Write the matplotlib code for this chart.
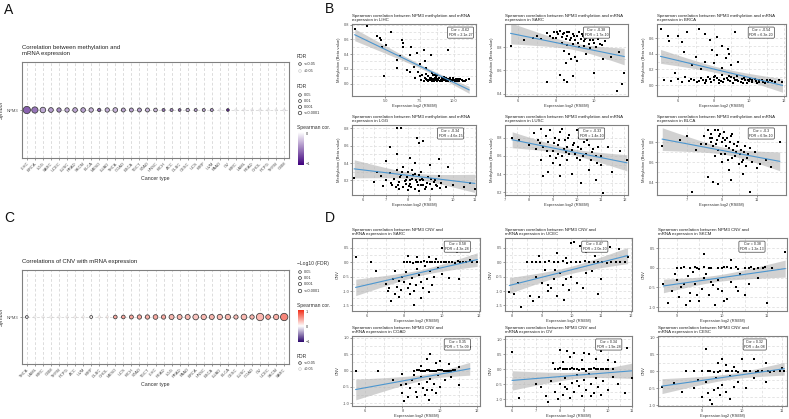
import numpy as np
import matplotlib.pyplot as plt
from matplotlib.colors import LinearSegmentedColormap, Normalize

plt.rcParams['font.family'] = ['Liberation Sans', 'DejaVu Sans']
plt.rcParams['axes.unicode_minus'] = False

# ---------------- panel A: methylation vs mRNA (bubble row) ----------------
meth_types = ['LIHC', 'BRCA', 'LGG', 'SARC', 'UCEC', 'LUSC', 'PRAD', 'SKCM', 'BLCA', 'MESO',
              'LUAD', 'THCA', 'COAD', 'ESCA', 'TGCT', 'STAD', 'HNSC', 'KICH', 'ACC', 'DLBC',
              'CESC', 'UCS', 'KIRP', 'UVM', 'PAAD', 'OV', 'KIRC', 'LAML', 'READ', 'CHOL',
              'PCPG', 'THYM', 'GBM']
meth_cor = [-0.62, -0.54, -0.34, -0.38, -0.45, -0.33, -0.35, -0.37, -0.30, -0.60,
            -0.32, -0.30, -0.35, -0.36, -0.38, -0.30, -0.28, -0.55, -0.45, -0.60,
            -0.30, -0.40, -0.35, -0.40, -0.15, -0.85, -0.08, -0.10, -0.12, -0.10,
            -0.05, -0.06, -0.15]
meth_fdr = [2.1e-27, 6.3e-20, 4.6e-15, 1.7e-10, 2e-8, 1.4e-8, 5e-10, 5e-10, 6.9e-9, 4e-4,
            2e-8, 5e-10, 8e-7, 8e-7, 8e-7, 8e-7, 2e-5, 6e-3, 6e-3, 3e-2,
            4e-4, 6e-3, 6e-3, 6e-3, 0.3, 0.04, 0.5, 0.5, 0.5, 0.5,
            0.5, 0.5, 0.5]

# ---------------- panel C: CNV vs mRNA (bubble row) ----------------
cnv_types = ['THCA', 'LAML', 'KIRC', 'GBM', 'THYM', 'PCPG', 'ACC', 'UVM', 'KIRP', 'DLBC',
             'CHOL', 'MESO', 'UCS', 'KICH', 'STAD', 'TGCT', 'LIHC', 'READ', 'LGG', 'PRAD',
             'PAAD', 'BRCA', 'HNSC', 'ESCA', 'LUAD', 'BLCA', 'CESC', 'LUSC', 'COAD', 'OV',
             'UCEC', 'SKCM', 'SARC']
cnv_cor = [-0.08, 0.02, 0.03, 0.05, 0.05, 0.08, 0.10, 0.10, 0.05, 0.15,
           0.15, 0.40, 0.42, 0.42, 0.40, 0.38, 0.40, 0.40, 0.35, 0.35,
           0.33, 0.28, 0.33, 0.35, 0.33, 0.35, 0.32, 0.33, 0.35, 0.34,
           0.47, 0.38, 0.58]
cnv_fdr = [0.03, 0.6, 0.5, 0.6, 0.5, 0.4, 0.4, 0.4, 0.02, 0.2,
           0.2, 2e-5, 2e-5, 8e-7, 2e-8, 2e-8, 5e-10, 2e-8, 8e-12, 8e-12,
           8e-12, 1e-15, 1e-13, 8e-12, 1e-13, 1e-13, 4e-8, 1e-15, 7.7e-9, 1.9e-28,
           2e-10, 1.2e-13, 4.3e-28]

# ---------------- panel B: methylation scatter data (expression, beta) ----------------
lihc_meth = [(2.8, 0.74), (3.7, 0.78), (4.4, 0.64), (4.6, 0.62), (4.7, 0.59), (5.4, 0.70), (4.8, 0.50),
             (5.1, 0.53), (6.2, 0.59), (6.3, 0.55), (6.3, 0.50), (6.9, 0.50), (6.1, 0.37), (5.9, 0.32),
             (6.8, 0.39), (7.3, 0.41), (7.8, 0.46), (8.3, 0.39), (9.6, 0.46), (7.5, 0.27), (7.9, 0.30),
             (7.1, 0.23), (6.6, 0.18), (5.9, 0.21), (4.9, 0.10), (6.8, 0.16), (7.4, 0.16), (8.0, 0.21),
             (7.6, 0.05), (7.8, 0.04), (8.0, 0.06), (8.2, 0.05), (8.4, 0.04), (8.6, 0.05), (8.8, 0.06),
             (9.0, 0.04), (9.2, 0.05), (9.4, 0.04), (9.6, 0.05), (9.8, 0.04), (10.0, 0.05), (10.2, 0.04),
             (10.4, 0.03), (10.6, 0.05), (10.8, 0.04), (11.1, 0.06), (7.9, 0.08), (8.3, 0.07), (8.7, 0.09),
             (9.1, 0.07), (9.5, 0.06), (9.9, 0.07), (10.3, 0.06), (8.1, 0.10), (8.5, 0.11), (8.9, 0.08),
             (9.3, 0.09), (9.7, 0.07), (7.7, 0.12), (8.0, 0.13), (8.4, 0.14), (8.6, 0.11), (7.2, 0.08),
             (7.5, 0.10), (8.8, 0.12), (9.0, 0.03), (8.05, 0.05), (8.15, 0.03), (8.25, 0.07), (8.35, 0.05),
             (8.45, 0.06), (8.55, 0.03), (8.65, 0.07), (8.75, 0.04), (8.85, 0.05), (8.95, 0.07), (9.05, 0.05),
             (9.15, 0.03), (9.25, 0.06), (9.35, 0.05), (9.45, 0.07), (9.55, 0.04), (9.65, 0.06), (9.75, 0.05),
             (9.85, 0.03), (9.95, 0.06), (10.05, 0.04), (10.15, 0.06), (10.25, 0.05), (10.45, 0.06),
             (10.65, 0.04), (10.9, 0.05)]
sarc_meth = [(5.6, 0.81), (6.8, 0.88), (7.2, 0.87), (7.5, 0.92), (7.7, 0.90), (7.9, 0.93), (8.0, 0.88),
             (8.1, 0.91), (8.2, 0.94), (8.3, 0.89), (8.4, 0.92), (8.5, 0.87), (8.6, 0.90), (8.7, 0.93),
             (8.8, 0.88), (8.9, 0.91), (9.0, 0.86), (9.1, 0.90), (9.2, 0.93), (9.3, 0.87), (9.4, 0.90),
             (9.5, 0.85), (9.6, 0.88), (9.7, 0.91), (9.8, 0.86), (9.9, 0.89), (10.0, 0.84), (10.2, 0.87),
             (10.4, 0.82), (10.6, 0.85), (8.3, 0.84), (8.6, 0.82), (8.9, 0.83), (9.2, 0.80), (9.5, 0.81),
             (9.8, 0.79), (10.1, 0.80), (8.4, 0.77), (8.7, 0.74), (9.0, 0.72), (8.8, 0.70), (9.1, 0.68),
             (8.5, 0.66), (8.2, 0.56), (8.4, 0.52), (8.6, 0.50), (8.9, 0.55), (7.5, 0.50), (10.0, 0.58),
             (10.9, 0.72), (11.2, 0.42), (11.5, 0.48), (11.6, 0.58), (11.3, 0.76), (10.5, 0.70),
             (9.6, 0.74), (7.0, 0.90), (6.3, 0.86), (8.35, 0.91), (8.55, 0.93), (8.75, 0.86), (8.95, 0.90),
             (9.15, 0.84), (9.35, 0.91), (9.55, 0.87), (9.75, 0.83), (9.95, 0.86), (10.3, 0.83), (7.85, 0.88),
             (8.05, 0.93)]
brca_meth = [(5.0, 0.72), (5.4, 0.63), (5.5, 0.56), (6.0, 0.63), (6.2, 0.55), (6.5, 0.68), (7.2, 0.72),
             (7.5, 0.65), (7.8, 0.58), (8.2, 0.62), (8.5, 0.50), (8.8, 0.46), (9.2, 0.68), (6.3, 0.42),
             (7.0, 0.36), (7.5, 0.30), (8.0, 0.28), (8.5, 0.22), (8.2, 0.38), (8.7, 0.35), (9.0, 0.25),
             (6.8, 0.25), (7.3, 0.20), (5.8, 0.15), (7.9, 0.45), (8.9, 0.40), (9.4, 0.30), (6.0, 0.08),
             (6.4, 0.10), (6.6, 0.05), (6.9, 0.06), (7.2, 0.05), (7.4, 0.07), (7.6, 0.05), (7.8, 0.08),
             (8.0, 0.06), (8.2, 0.09), (8.4, 0.05), (8.6, 0.08), (8.8, 0.06), (9.0, 0.10), (9.2, 0.07),
             (9.4, 0.05), (9.6, 0.08), (9.8, 0.06), (10.0, 0.05), (10.2, 0.07), (10.4, 0.05), (10.6, 0.06),
             (10.8, 0.04), (11.0, 0.06), (11.3, 0.05), (11.7, 0.06), (11.9, 0.04), (8.1, 0.12), (8.5, 0.13),
             (8.9, 0.11), (7.7, 0.10), (9.3, 0.11), (8.3, 0.03), (9.1, 0.03), (9.9, 0.03), (7.5, 0.03),
             (6.75, 0.08), (7.05, 0.04), (7.3, 0.09), (7.55, 0.06), (7.85, 0.04), (8.05, 0.10), (8.3, 0.07),
             (8.55, 0.04), (8.75, 0.09), (8.95, 0.05), (9.15, 0.09), (9.35, 0.06), (9.55, 0.04), (9.75, 0.09),
             (9.95, 0.07), (10.15, 0.04), (10.35, 0.08), (10.55, 0.04), (10.75, 0.07), (11.1, 0.04),
             (5.2, 0.06), (5.6, 0.05), (6.2, 0.04), (10.9, 0.03), (11.2, 0.07), (11.5, 0.04), (10.45, 0.03),
             (10.05, 0.08), (9.65, 0.03)]
lgg_meth = [(7.5, 0.81), (7.7, 0.80), (8.4, 0.69), (8.5, 0.63), (7.2, 0.58), (8.7, 0.66), (7.5, 0.50),
            (8.1, 0.46), (9.4, 0.45), (9.8, 0.35), (5.6, 0.23), (6.5, 0.18), (10.5, 0.12), (10.8, 0.17),
            (11.0, 0.10), (7.0, 0.42), (9.0, 0.38), (8.3, 0.40), (7.0, 0.20), (7.2, 0.28), (7.3, 0.14),
            (7.4, 0.22), (7.5, 0.32), (7.6, 0.18), (7.7, 0.26), (7.8, 0.12), (7.9, 0.20), (8.0, 0.30),
            (8.1, 0.16), (8.2, 0.22), (8.3, 0.10), (8.4, 0.18), (8.5, 0.26), (8.6, 0.14), (8.7, 0.20),
            (8.8, 0.12), (8.9, 0.24), (9.0, 0.16), (9.1, 0.10), (9.2, 0.20), (9.3, 0.13), (9.5, 0.17),
            (9.7, 0.12), (10.0, 0.15), (6.8, 0.25), (6.6, 0.30), (7.8, 0.35), (8.2, 0.32), (8.6, 0.30),
            (8.0, 0.09), (8.5, 0.08), (7.6, 0.10), (9.4, 0.25), (6.9, 0.13), (8.3, 0.27), (7.9, 0.16),
            (8.7, 0.15), (8.1, 0.20), (7.25, 0.17), (7.45, 0.12), (7.65, 0.24), (7.85, 0.19), (8.05, 0.13),
            (8.25, 0.26), (8.45, 0.15), (8.65, 0.22), (8.85, 0.17), (9.05, 0.22), (9.25, 0.15), (9.45, 0.11),
            (7.95, 0.24), (8.35, 0.20), (8.75, 0.10), (8.15, 0.12), (7.55, 0.15), (9.15, 0.18), (8.55, 0.20),
            (7.75, 0.30)]
lusc_meth = [(7.3, 0.80), (7.6, 0.78), (8.0, 0.72), (8.5, 0.55), (8.8, 0.42), (9.3, 0.38), (10.2, 0.30),
             (10.8, 0.33), (11.1, 0.19), (11.5, 0.42), (12.1, 0.55), (11.0, 0.60), (11.8, 0.65), (11.3, 0.70),
             (8.6, 0.38), (9.8, 0.40), (10.5, 0.45), (8.2, 0.85), (8.4, 0.78), (8.5, 0.90), (8.6, 0.70),
             (8.7, 0.82), (8.8, 0.75), (8.9, 0.88), (9.0, 0.65), (9.1, 0.80), (9.2, 0.72), (9.3, 0.86),
             (9.4, 0.60), (9.5, 0.77), (9.6, 0.70), (9.7, 0.83), (9.8, 0.66), (9.9, 0.74), (10.0, 0.58),
             (10.1, 0.80), (10.2, 0.68), (10.3, 0.75), (10.4, 0.62), (10.5, 0.72), (10.6, 0.55), (10.7, 0.68),
             (10.8, 0.60), (10.9, 0.70), (11.0, 0.50), (9.0, 0.52), (9.3, 0.50), (9.6, 0.55), (8.9, 0.60),
             (9.4, 0.90), (10.0, 0.88), (8.3, 0.68), (10.4, 0.85), (9.2, 0.62), (9.7, 0.62), (8.75, 0.65),
             (9.05, 0.74), (9.25, 0.78), (9.45, 0.68), (9.65, 0.80), (9.85, 0.72), (10.05, 0.70), (10.25, 0.60),
             (10.45, 0.78), (10.65, 0.64), (9.15, 0.58), (9.55, 0.64), (9.95, 0.62), (8.45, 0.74),
             (10.15, 0.55), (10.85, 0.52)]
blca_meth = [(5.6, 0.76), (6.6, 0.82), (7.0, 0.86), (8.2, 0.45), (8.5, 0.40), (8.8, 0.38), (9.5, 0.42),
             (10.6, 0.30), (7.3, 0.30), (12.3, 0.80), (11.2, 0.58), (11.5, 0.62), (7.5, 0.72), (7.8, 0.78),
             (11.8, 0.55), (8.0, 0.86), (8.1, 0.78), (8.2, 0.92), (8.3, 0.84), (8.4, 0.88), (8.5, 0.76),
             (8.6, 0.92), (8.7, 0.82), (8.8, 0.72), (8.9, 0.88), (9.0, 0.80), (9.1, 0.90), (9.2, 0.68),
             (9.3, 0.84), (9.4, 0.74), (9.5, 0.86), (9.6, 0.64), (9.7, 0.78), (9.8, 0.70), (9.9, 0.80),
             (10.0, 0.58), (10.1, 0.72), (10.2, 0.62), (10.3, 0.76), (10.4, 0.56), (10.5, 0.68), (10.7, 0.60),
             (10.9, 0.70), (11.0, 0.54), (9.0, 0.60), (9.4, 0.52), (8.6, 0.66), (10.2, 0.48), (9.6, 0.88),
             (8.8, 0.92), (8.4, 0.80), (9.2, 0.82), (10.6, 0.74), (8.45, 0.84), (8.65, 0.78), (8.85, 0.86),
             (9.05, 0.84), (9.25, 0.76), (9.45, 0.80), (9.65, 0.72), (9.85, 0.76), (10.05, 0.68), (10.25, 0.70),
             (10.45, 0.64), (8.95, 0.68), (9.35, 0.62), (9.75, 0.66), (10.15, 0.60)]

# ---------------- panel D: CNV scatter data (expression, CNV) ----------------
sarc_cnv = [(8.0, 0.0), (8.3, 0.01), (8.6, -0.01), (8.9, 0.0), (9.2, 0.01), (9.5, 0.0), (9.8, -0.01),
            (10.1, 0.01), (10.4, 0.0), (10.7, -0.02), (11.0, 0.0), (11.3, 0.01), (11.6, 0.0), (8.45, -0.02),
            (9.05, 0.02), (9.65, 0.01), (10.25, -0.01), (10.85, 0.02), (7.0, -0.75), (7.2, -0.9), (7.4, -0.6),
            (7.6, -0.85), (7.8, -0.95), (8.0, -0.7), (8.2, -0.9), (8.4, -0.55), (8.6, -0.8), (8.8, -0.45),
            (9.0, -0.9), (9.2, -0.6), (9.4, -0.3), (9.6, -0.5), (9.8, -0.2), (10.0, -0.4), (7.5, -0.3),
            (8.1, -0.35), (8.7, -0.25), (7.9, -0.5), (9.1, -0.15), (10.4, -0.55), (10.9, -0.6), (7.3, -1.35),
            (7.7, -1.2), (8.3, -1.1), (8.9, -1.25), (8.5, -1.5), (6.5, -0.3), (5.4, 0.16), (6.2, 0.0),
            (8.2, 0.22), (8.7, 0.16), (9.3, 0.19), (10.0, 0.47), (10.5, 0.38), (10.8, 0.35), (11.5, 0.06),
            (11.9, 0.0), (9.7, 0.1), (8.15, 0.0), (8.75, 0.01), (9.35, -0.01), (9.95, 0.0), (10.55, 0.01),
            (11.15, -0.01), (7.1, -1.0), (7.7, -0.65), (8.3, -0.75), (8.9, -0.7), (9.5, -0.8), (8.5, -1.0),
            (7.5, -1.1), (9.3, -1.05)]
ucec_cnv = [(8.5, 0.0), (8.8, 0.01), (9.1, -0.01), (9.4, 0.0), (9.7, 0.02), (10.0, 0.0), (10.3, -0.01),
            (10.6, 0.01), (10.9, 0.0), (11.2, -0.02), (11.5, 0.0), (11.8, 0.01), (9.25, 0.02), (9.85, -0.02),
            (10.45, 0.02), (11.05, 0.01), (10.0, 0.65), (10.1, 0.69), (10.3, 0.55), (11.3, 0.52), (10.5, 0.36),
            (9.5, 0.32), (8.9, 0.22), (10.8, 0.22), (11.6, 0.45), (11.9, 0.18), (9.8, 0.14), (7.9, -1.04),
            (8.05, -1.1), (8.3, -1.55), (8.6, -1.17), (8.7, -1.36), (9.0, -0.72), (9.2, -0.8), (9.3, -0.9),
            (9.4, -0.58), (9.5, -1.17), (9.6, -0.39), (9.7, -0.78), (9.9, -0.97), (10.0, -0.52), (10.2, -0.72),
            (10.5, -0.39), (10.7, -0.32), (11.0, -0.58), (9.1, -0.26), (8.8, -0.52), (8.2, -0.72), (10.9, -1.1),
            (9.75, -1.3), (9.45, -0.26), (8.65, 0.01), (8.95, 0.0), (9.55, -0.01), (10.15, 0.01), (10.75, -0.01),
            (11.35, 0.0), (11.65, 0.01), (9.2, -1.0), (9.8, -0.6), (10.4, -0.9), (8.9, -1.2)]
skcm_cnv = [(9.0, 0.0), (9.15, 0.01), (9.3, -0.01), (9.45, 0.0), (9.6, 0.02), (9.75, 0.0), (9.9, -0.01),
            (10.05, 0.01), (10.2, 0.0), (10.35, -0.02), (10.5, 0.0), (10.65, 0.01), (10.8, 0.0), (10.95, 0.01),
            (11.1, -0.01), (9.5, -0.02), (10.1, 0.02), (10.7, -0.02), (8.7, -0.4), (8.8, -0.9), (8.9, -0.6),
            (9.0, -0.3), (9.05, -0.75), (9.1, -0.5), (9.2, -0.95), (9.25, -0.2), (9.3, -0.65), (9.4, -0.4),
            (9.5, -0.85), (9.55, -0.55), (9.6, -0.25), (9.7, -0.7), (9.8, -0.45), (9.85, -0.95), (9.9, -0.3),
            (10.0, -0.6), (10.1, -0.8), (10.2, -0.35), (10.3, -0.5), (10.4, -0.15), (10.5, -0.7), (10.6, -0.4),
            (10.8, -0.25), (11.0, -0.9), (9.35, -0.1), (9.65, -0.15), (8.95, -0.15), (9.6, 0.35), (10.6, 0.5),
            (11.4, 0.4), (10.2, 0.2), (9.1, 0.0), (9.4, 0.01), (9.7, -0.01), (10.0, 0.0), (10.3, 0.01),
            (10.6, 0.0), (10.9, -0.01), (9.15, -0.4), (9.45, -0.7), (9.75, -0.35), (10.05, -0.85), (10.35, -0.6),
            (9.3, -0.85), (9.9, -0.55)]
coad_cnv = [(5.5, 0.0), (6.7, 0.0), (11.6, 0.72), (9.5, 0.5), (9.3, 0.35), (10.0, 0.3), (9.8, 0.22),
            (9.0, 0.15), (10.5, 0.2), (11.0, 0.1), (8.6, 0.0), (8.8, 0.01), (9.0, -0.01), (9.2, 0.0),
            (9.4, 0.02), (9.6, 0.0), (9.8, -0.01), (10.0, 0.01), (10.2, 0.0), (10.4, -0.02), (10.6, 0.0),
            (10.8, 0.01), (8.9, 0.02), (9.5, -0.02), (10.1, 0.02), (7.5, -0.3), (7.9, -0.45), (8.0, -0.7),
            (8.1, -0.95), (8.3, -0.8), (8.4, -0.55), (8.5, -0.3), (8.7, -0.65), (8.9, -0.4), (9.0, -0.2),
            (9.1, -0.55), (9.2, -0.75), (9.3, -0.35), (9.5, -0.25), (9.6, -0.6), (9.7, -0.4), (9.9, -0.15),
            (10.0, -0.5), (10.3, -0.3), (10.6, -0.2), (11.0, -0.45), (8.0, -0.1), (8.6, -0.15), (9.4, -0.9),
            (9.1, 0.0), (9.3, 0.01), (9.7, 0.0), (9.9, 0.01), (10.3, 0.0), (10.5, -0.01), (10.7, 0.01),
            (8.8, -0.8), (9.3, -0.6), (9.8, -0.7), (8.2, -0.4)]
ov_cnv = [(7.8, 0.0), (8.0, 0.02), (8.2, -0.01), (8.4, 0.01), (8.6, 0.0), (8.8, -0.02), (9.0, 0.01),
          (9.2, 0.0), (9.4, 0.02), (9.6, -0.01), (9.8, 0.0), (10.0, 0.01), (10.2, -0.01), (8.5, 0.05),
          (9.1, -0.05), (6.0, 0.58), (8.0, 0.65), (8.3, 0.6), (8.6, 0.55), (9.2, 0.5), (8.9, 0.3),
          (9.5, 0.35), (10.0, 0.3), (10.3, 0.25), (10.8, 0.7), (9.7, 0.6), (7.7, 0.2), (8.1, 0.25),
          (6.3, -0.95), (7.2, -0.6), (7.4, -0.9), (7.6, -0.4), (7.8, -0.75), (7.9, -1.0), (8.0, -0.5),
          (8.1, -0.85), (8.2, -0.3), (8.3, -0.65), (8.4, -0.95), (8.5, -0.45), (8.6, -0.75), (8.7, -0.2),
          (8.8, -0.55), (8.9, -0.9), (9.0, -0.35), (9.1, -0.7), (9.2, -0.15), (9.3, -0.5), (9.4, -0.8),
          (9.5, -0.3), (9.6, -0.6), (9.8, -0.4), (10.0, -0.7), (10.2, -0.25), (10.4, -0.5), (10.7, -0.8),
          (11.0, -0.3), (7.0, -0.5), (7.5, -1.1), (7.9, 0.01), (8.1, -0.01), (8.3, 0.0), (8.7, 0.01),
          (8.9, 0.0), (9.3, -0.01), (9.5, 0.0), (9.7, 0.01), (9.9, -0.01), (8.4, 0.4), (9.0, 0.55),
          (8.7, -0.4), (9.3, -0.9), (8.2, -0.6), (9.7, -0.85)]
cesc_cnv = [(9.0, 0.0), (9.15, 0.01), (9.3, -0.01), (9.45, 0.0), (9.6, 0.02), (9.75, 0.0), (9.9, -0.01),
            (10.05, 0.01), (10.2, 0.0), (10.35, -0.02), (10.5, 0.0), (10.65, 0.01), (10.8, 0.0),
            (10.95, 0.01), (11.05, 0.0), (8.6, 0.0), (8.8, 0.01), (9.1, 0.65), (9.5, 0.35), (9.4, 0.25),
            (9.6, 0.2), (10.0, 0.35), (10.3, 0.35), (10.6, 0.25), (11.0, 0.1), (9.8, 0.12), (8.0, -0.45),
            (8.3, -0.35), (8.5, -0.6), (8.8, -0.5), (9.0, -0.75), (9.1, -0.3), (9.2, -0.85), (9.3, -0.55),
            (9.35, -0.2), (9.45, -0.7), (9.5, -0.4), (9.6, -0.6), (9.7, -0.15), (9.8, -0.45), (9.9, -0.3),
            (10.1, -0.5), (10.3, -0.2), (9.25, -0.95), (8.9, -0.25), (10.6, -0.3), (9.2, 0.01), (9.4, -0.01),
            (9.65, 0.0), (9.85, 0.01), (10.1, 0.0), (10.4, 0.01), (10.7, -0.01), (9.4, -0.5), (9.7, -0.8),
            (9.15, -0.65)]

scatter_cancers = ['LIHC', 'SARC', 'BRCA', 'LGG', 'LUSC', 'BLCA', 'SARC', 'UCEC', 'SKCM', 'COAD', 'OV', 'CESC']
scatter_cor = ['-0.62', '-0.38', '-0.54', '-0.34', '-0.33', '-0.3', '0.58', '0.47', '0.38', '0.35', '0.34', '0.32']
scatter_fdr = ['2.1e-27', '1.7e-10', '6.3e-20', '4.6e-15', '1.4e-10', '6.9e-10',
               '4.3e-28', '2.0e-10', '1.2e-13', '7.7e-09', '1.9e-28', '4e-08']

W, H = 789, 419
fig = plt.figure(figsize=(W / 100, H / 100), dpi=100)


def px_axes(l, t, r, b):
    return fig.add_axes([l / W, 1 - b / H, (r - l) / W, (b - t) / H])


def size_of(fdr):
    v = -np.log10(np.array(fdr))
    d = np.sqrt(5 + 1.8 * v)
    return (d * 0.72) ** 2


def bubble_row(box, types, cor, fdr, cmap, norm, title):
    ax = px_axes(*box)
    n = len(types)
    x = np.arange(n)
    fdr = np.array(fdr)
    sig = fdr <= 0.05
    cols = cmap(norm(np.array(cor)))
    s = size_of(fdr)
    ax.scatter(x[~sig], np.zeros((~sig).sum()), s=s[~sig], c=cols[~sig], alpha=0.35,
               edgecolors='#aaaaaa', linewidths=0.5, zorder=3)
    ax.scatter(x[sig], np.zeros(sig.sum()), s=s[sig], c=cols[sig],
               edgecolors='#3a3a3a', linewidths=0.55, zorder=4)
    ax.set_xlim(-0.6, n - 0.4)
    ax.set_ylim(-1, 1)
    ax.set_xticks(x)
    ax.set_xticklabels(types, rotation=45, ha='right', rotation_mode='anchor', fontsize=3.0, color='#4d4d4d')
    ax.set_yticks([0])
    ax.set_yticklabels(['NPM3'], fontsize=3.0, color='#4d4d4d')
    ax.tick_params(length=1.5, width=0.4, pad=1, colors='#4d4d4d')
    ax.grid(True, ls=(0, (4, 3)), color='#cfcfcf', lw=0.5)
    ax.set_axisbelow(True)
    for sp in ax.spines.values():
        sp.set_color('#808080')
        sp.set_linewidth(0.8)
    ax.set_xlabel('Cancer type', fontsize=3.8, labelpad=2, color='#333333')
    ax.set_ylabel('Symbol', fontsize=3.8, labelpad=2, color='#333333')
    ax.set_title(title, loc='left', fontsize=4.3, pad=5, color='#222222', linespacing=1.3)
    return ax


def legend_axes(l, t, r, b):
    ax = px_axes(l, t, r, b)
    ax.set_xlim(l, r)
    ax.set_ylim(b, t)
    ax.axis('off')
    return ax


def ltext(ax, x, y, s, size=3.0):
    ax.text(x, y, s, fontsize=size, va='center', ha='left', color='#333333', clip_on=True)


def colorbar(ax, x0, x1, y0, y1, cmap, vmin, vmax):
    grad = np.linspace(vmax, vmin, 100).reshape(-1, 1)
    ax.imshow(grad, extent=(x0, x1, y1, y0), cmap=cmap, vmin=vmin, vmax=vmax, aspect='auto')


purple_cmap = LinearSegmentedColormap.from_list('pur', ['#3f007d', '#ffffff'])
div_cmap = LinearSegmentedColormap.from_list('div', ['#2e0a6e', '#ffffff', '#f2301b'])

# panel A
bubble_row((22, 62, 289, 158), meth_types, meth_cor, meth_fdr, purple_cmap, Normalize(-1, 0),
           'Correlation between methylation and\nmRNA expression')
la = legend_axes(292, 50, 331, 172)
ltext(la, 297, 57, 'FDR', 3.6)
la.scatter([300], [64], s=size_of([0.05]), facecolors='none', edgecolors='#3a3a3a', linewidths=0.5)
la.scatter([300], [71], s=size_of([0.05]), facecolors='none', edgecolors='#cccccc', linewidths=0.5)
ltext(la, 304, 64, '<=0.05', 2.8)
ltext(la, 304, 71, '>0.05', 2.8)
ltext(la, 297, 86, 'FDR', 3.6)
for yy, lab, f in zip([95, 101, 107, 113], ['0.05', '0.01', '0.001', '<=0.0001'], [0.05, 0.01, 0.001, 0.0001]):
    la.scatter([300], [yy], s=size_of([f]), facecolors='none', edgecolors='#3a3a3a', linewidths=0.5)
    ltext(la, 304, yy, lab, 2.8)
ltext(la, 297, 127, 'Spearman cor.', 3.6)
colorbar(la, 298, 304, 132, 165, purple_cmap, -1, 0)
ltext(la, 306, 134, '0', 2.8)
ltext(la, 306, 164, '\u22121', 2.8)

# panel C
bubble_row((22, 270, 289, 364), cnv_types, cnv_cor, cnv_fdr, div_cmap, Normalize(-1, 1),
           'Correlations of CNV with mRNA expression')
lc = legend_axes(292, 258, 331, 375)
ltext(lc, 297, 264, '\u2212Log10 (FDR)', 3.6)
for yy, lab, f in zip([272, 278, 284, 291], ['0.05', '0.01', '0.001', '<=0.0001'], [0.05, 0.01, 0.001, 0.0001]):
    lc.scatter([300], [yy], s=size_of([f]), facecolors='none', edgecolors='#3a3a3a', linewidths=0.5)
    ltext(lc, 304, yy, lab, 2.8)
ltext(lc, 297, 306, 'Spearman cor.', 3.6)
colorbar(lc, 298, 304, 311, 342, div_cmap, -1, 1)
ltext(lc, 306, 312, '1', 2.8)
ltext(lc, 306, 327, '0', 2.8)
ltext(lc, 306, 342, '\u22121', 2.8)
ltext(lc, 297, 356, 'FDR', 3.6)
lc.scatter([300], [363], s=size_of([0.05]), facecolors='none', edgecolors='#3a3a3a', linewidths=0.5)
lc.scatter([300], [369], s=size_of([0.05]), facecolors='none', edgecolors='#cccccc', linewidths=0.5)
ltext(lc, 304, 363, '<=0.05', 2.8)
ltext(lc, 304, 369, '>0.05', 2.8)

# scatter panels: box, xlim, ylim, xticks, yticks, label x-pos (axes fraction)
boxes = [(352, 24, 476, 96), (505, 24, 628, 96), (657, 24, 786, 96),
         (352, 125, 476, 195), (505, 125, 628, 195), (657, 125, 786, 195),
         (352, 238, 480, 311), (505, 238, 632, 311), (658, 238, 787, 311),
         (352, 336, 480, 406), (505, 336, 632, 406), (658, 336, 787, 406)]
xlims = [(2.6, 11.6), (5.3, 11.8), (4.8, 12.1), (5.5, 11.05), (7.0, 12.15), (5.3, 12.66),
         (5.2, 12.05), (7.75, 12.05), (8.58, 11.44), (5.3, 12.15), (5.7, 11.0), (7.9, 11.12)]
ylims = [(-0.17, 0.81), (0.38, 1.0), (-0.14, 0.78), (0.03, 0.84), (0.17, 0.94), (0.27, 0.97),
         (-1.69, 0.83), (-1.69, 0.83), (-1.1, 0.76), (-1.09, 1.06), (-1.23, 1.1), (-1.02, 1.04)]
xtick_list = [[5, 7.5, 10], [6, 8, 10], [6, 8, 10, 12], [6, 7, 8, 9, 10, 11], [7, 8, 9, 10, 11, 12],
              [7, 9, 11], [6, 8, 10, 12], [8, 9, 10, 11, 12], [9, 10, 11], [6, 8, 10, 12],
              [6, 7, 8, 9, 10, 11], [9, 10, 11]]
ytick_list = ([[0, 0.2, 0.4, 0.6, 0.8], [0.4, 0.6, 0.8], [0, 0.2, 0.4, 0.6], [0.2, 0.4, 0.6, 0.8],
               [0.2, 0.4, 0.6, 0.8], [0.4, 0.6, 0.8]]
              + [[-1.5, -1.0, -0.5, 0.0, 0.5]] * 2 + [[-1.0, -0.5, 0.0, 0.5]]
              + [[-1.0, -0.5, 0.0, 0.5, 1.0]] * 3)
label_x = [0.97, 0.84, 0.90, 0.89, 0.80, 0.90, 0.915, 0.80, 0.82, 0.915, 0.91, 0.83]
scatter_data = [lihc_meth, sarc_meth, brca_meth, lgg_meth, lusc_meth, blca_meth,
                sarc_cnv, ucec_cnv, skcm_cnv, coad_cnv, ov_cnv, cesc_cnv]

for i, pts in enumerate(scatter_data):
    ax = px_axes(*boxes[i])
    x, y = np.array(pts).T
    # linear fit with 95% confidence band
    b, a = np.polyfit(x, y, 1)
    xs = np.linspace(x.min(), x.max(), 100)
    fit = a + b * xs
    n = len(x)
    resid = y - (a + b * x)
    sd = np.sqrt(np.sum(resid ** 2) / (n - 2))
    se = sd * np.sqrt(1 / n + (xs - x.mean()) ** 2 / np.sum((x - x.mean()) ** 2))
    ax.fill_between(xs, fit - 1.96 * se, fit + 1.96 * se, color='#b3b3b3', alpha=0.6, lw=0, zorder=2)
    ax.scatter(x, y, s=2.4, c='black', marker='s', lw=0, zorder=3)
    ax.plot(xs, fit, color='#4c96cf', lw=0.8, zorder=4)
    ax.set_xlim(*xlims[i])
    ax.set_ylim(*ylims[i])
    xt = xtick_list[i]
    yt = ytick_list[i]
    ax.set_xticks(xt)
    ax.set_yticks(yt)
    ax.set_xticks([(p + q) / 2 for p, q in zip(xt[:-1], xt[1:])], minor=True)
    ax.set_yticks([(p + q) / 2 for p, q in zip(yt[:-1], yt[1:])], minor=True)
    if i == 0:
        ax.set_xticklabels(['5.0', '7.5', '10.0'])
    if i >= 6:
        ax.set_yticklabels(['%.1f' % v for v in yt])
    ax.tick_params(which='major', labelsize=2.8, length=1.2, width=0.4, pad=0.8, colors='#4d4d4d')
    ax.tick_params(which='minor', length=0)
    ax.grid(True, which='both', ls=(0, (4, 3)), color='#d6d6d6', lw=0.45)
    ax.set_axisbelow(True)
    for sp in ax.spines.values():
        sp.set_color('#808080')
        sp.set_linewidth(0.8)
    if i < 6:
        title = ('Spearman correlation between NPM3 methylation and mRNA\nexpression in %s'
                 % scatter_cancers[i])
        ylab = 'Methylation (Beta value)'
    else:
        title = ('Spearman correlation between NPM3 CNV and\nmRNA expression in %s'
                 % scatter_cancers[i])
        ylab = 'CNV'
    ax.set_title(title, loc='left', fontsize=3.2, pad=2, color='#222222', linespacing=1.15)
    ax.set_xlabel('Expression log2 (RSEM)', fontsize=3.0, labelpad=1.0, color='#333333')
    ax.set_ylabel(ylab, fontsize=3.0, labelpad=2, color='#333333')
    ax.text(label_x[i], 0.94, 'Cor = %s\nFDR = %s' % (scatter_cor[i], scatter_fdr[i]),
            transform=ax.transAxes, ha='right', va='top', fontsize=2.6, multialignment='center',
            color='#222222', zorder=6,
            bbox=dict(boxstyle='round,pad=0.35,rounding_size=0.3', fc='white', ec='#444444', lw=0.5))

for lab, xx, yy in [('A', 4, 14), ('B', 325, 13), ('C', 4, 222), ('D', 325, 222)]:
    fig.text(xx / W, 1 - yy / H, lab, fontsize=10, ha='left', va='baseline', color='#111111')

fig.savefig('out.png', dpi=100)
